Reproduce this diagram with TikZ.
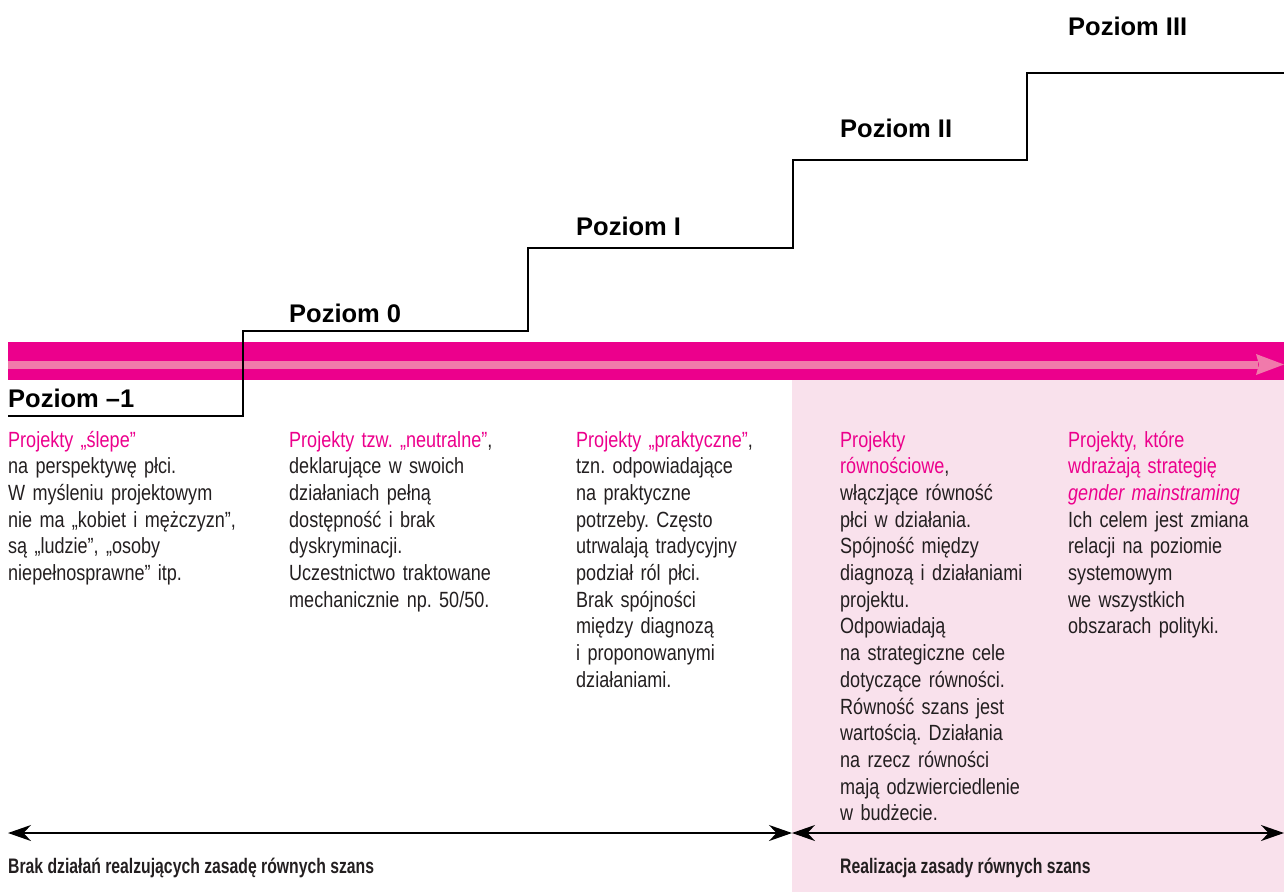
\documentclass[tikz,border=0pt]{standalone}
\usepackage{fontspec}
\setmainfont{Liberation Sans}
\newfontfamily\condfont[FakeStretch=0.82]{Liberation Sans}
\newfontfamily\boldcondfont[FakeStretch=0.75]{Liberation Sans}
\usetikzlibrary{arrows.meta}
\definecolor{band_mag}{HTML}{EC008C}
\definecolor{band_light}{HTML}{F17AAB}
\definecolor{area_pink}{HTML}{F9E1EC}
\definecolor{ink}{HTML}{231F20}
\frenchspacing
\tikzset{
	lvl_node/.style = {
		anchor=base west,
		inner sep=0pt,
		text=black,
		font=\fontsize{25.5}{30}\selectfont\bfseries
	},
	col_node/.style = {
		anchor=base west,
		inner sep=0pt,
		align=left,
		text width=240pt,
		text=ink,
		font=\condfont\fontsize{22}{26.7}\selectfont
	},
	foot_node/.style = {
		anchor=base west,
		inner sep=0pt,
		text=ink,
		font=\boldcondfont\bfseries\fontsize{21}{25}\selectfont
	},
	stair/.style = {
		line width=2.6pt,
		line join=miter
	},
	span/.style = {
		line width=1.3pt,
		{Stealth[length=23pt,width=16pt]}-{Stealth[length=23pt,width=16pt]}
	},
}
\newcommand{\hl}[1]{\textcolor{band_mag}{#1}}

\begin{document}
\begin{tikzpicture}[x=1pt,y=-1pt]
\useasboundingbox (0,0) rectangle (1284,892);
\fill[area_pink] (792,380) rectangle (1284,892);
\fill[band_mag] (8,342) rectangle (1284,380);
\fill[band_light] (8,361) rectangle (1258,369);
\fill[band_light] (1256,354) -- (1284,364.5) -- (1256,375) -- (1259,364.5) -- cycle;

\draw[stair] (8,416) -- (243,416) -- (243,331) -- (528,331) -- (528,248)
	-- (793,248) -- (793,160) -- (1027,160) -- (1027,73) -- (1284,73);

\node [lvl_node] (lvl_m1) at (8,407) {Poziom –1};
\node [lvl_node] (lvl_0) at (289,322) {Poziom 0};
\node [lvl_node] (lvl_1) at (576,235) {Poziom I};
\node [lvl_node] (lvl_2) at (840,137) {Poziom II};
\node [lvl_node] (lvl_3) at (1068,35) {Poziom III};

\node [col_node] (col_blind) at (8,447) {\hl{Projekty „ślepe”}\\
	na perspektywę płci.\\
	W myśleniu projektowym\\
	nie ma „kobiet i mężczyzn”,\\
	są „ludzie”, „osoby\\
	niepełnosprawne” itp.};
\node [col_node] (col_neutral) at (289,447) {\hl{Projekty tzw. „neutralne”},\\
	deklarujące w swoich\\
	działaniach pełną\\
	dostępność i brak\\
	dyskryminacji.\\
	Uczestnictwo traktowane\\
	mechanicznie np. 50/50.};
\node [col_node] (col_practical) at (576,447) {\hl{Projekty „praktyczne”},\\
	tzn. odpowiadające\\
	na praktyczne\\
	potrzeby. Często\\
	utrwalają tradycyjny\\
	podział ról płci.\\
	Brak spójności\\
	między diagnozą\\
	i proponowanymi\\
	działaniami.};
\node [col_node] (col_equal) at (840,447) {\hl{Projekty}\\
	\hl{równościowe},\\
	włączjące równość\\
	płci w działania.\\
	Spójność między\\
	diagnozą i działaniami\\
	projektu.\\
	Odpowiadają\\
	na strategiczne cele\\
	dotyczące równości.\\
	Równość szans jest\\
	wartością. Działania\\
	na rzecz równości\\
	mają odzwierciedlenie\\
	w budżecie.};
\node [col_node] (col_gm) at (1068,447) {\hl{Projekty, które}\\
	\hl{wdrażają strategię}\\
	\hl{\itshape gender mainstraming}\\
	Ich celem jest zmiana\\
	relacji na poziomie\\
	systemowym\\
	we wszystkich\\
	obszarach polityki.};

\coordinate (span_l) at (8,833);
\coordinate (span_m) at (792,833);
\coordinate (span_r) at (1284,833);
\draw[span] (span_l) -- (span_m);
\draw[span] (span_m) -- (span_r);

\node [foot_node] (foot_no) at (8,873) {Brak działań realzujących zasadę równych szans};
\node [foot_node] (foot_yes) at (840,873) {Realizacja zasady równych szans};
\end{tikzpicture}
\end{document}
